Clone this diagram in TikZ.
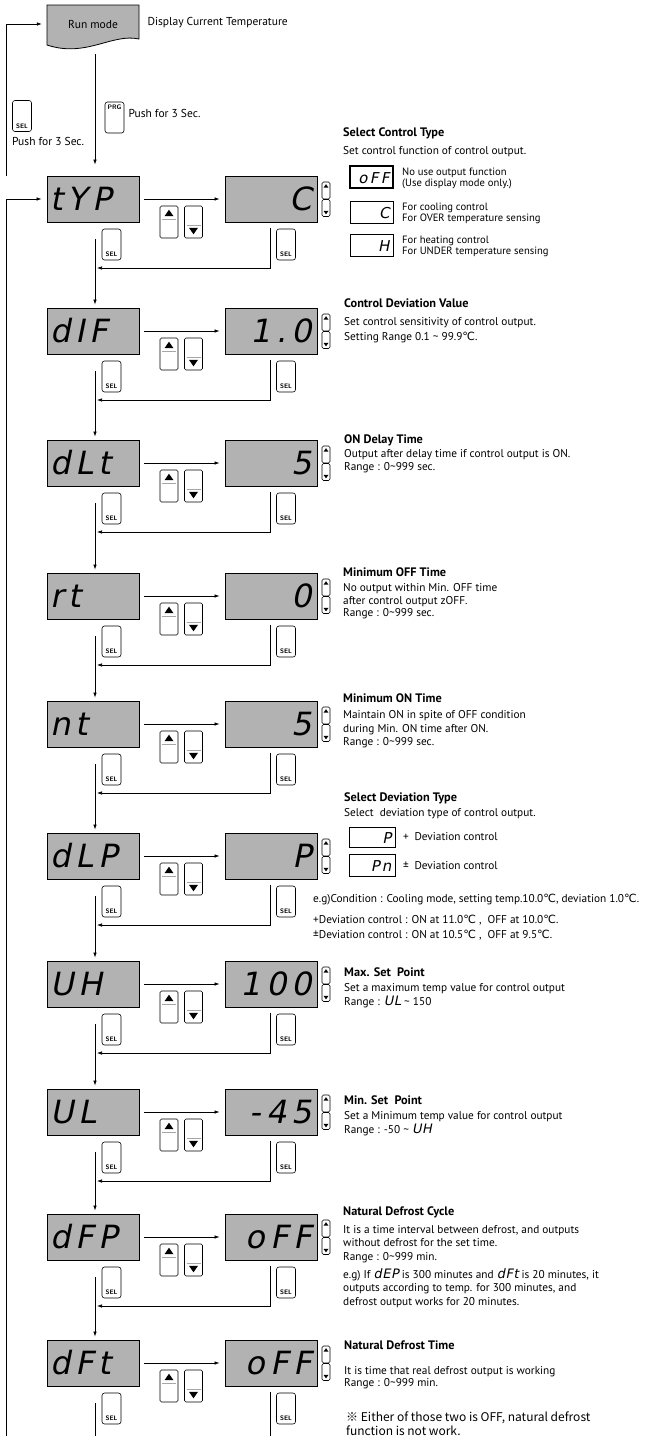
\documentclass[tikz,border=0pt]{standalone}
\usepackage{fontspec}
\setmainfont{PT Sans}
\newfontfamily\segfont[FakeSlant=0.2, LetterSpace=16]{DejaVu Sans}
\newfontfamily\seginline[FakeSlant=0.2, LetterSpace=4]{DejaVu Sans}
\newfontfamily\symfont{DejaVu Sans}
\newfontfamily\notefont{Noto Sans CJK JP}
\newcommand{\degc}{{\symfont ℃}}
\newcommand{\tild}{\textasciitilde}
\newcommand{\seg}[1]{{\seginline\fontsize{13}{13}\selectfont #1}}
\newcommand{\ttl}[1]{{\fontsize{12.3}{13}\selectfont\bfseries #1}}
\usetikzlibrary{arrows.meta, positioning, calc}

\begin{document}
\begin{tikzpicture}[x=1pt, y=-1pt, font=\fontsize{11.3}{13}\selectfont,
    disp/.style={rectangle, draw, line width=0.9pt, fill=black!30, minimum height=46pt, inner ysep=0pt, text height=22pt, text depth=0pt, font=\segfont\fontsize{32}{32}\selectfont},
    dispL/.style={disp, text width=86pt, inner xsep=3pt, align=left},
    dispR/.style={disp, text width=82pt, inner xsep=5pt, align=right},
    selkey/.style={draw, line width=0.6pt, rounded corners=2.5pt, minimum width=19pt, inner xsep=0pt, inner ysep=2.5pt, text height=25pt, text depth=1pt, font=\sffamily\bfseries\fontsize{6.5}{6.5}\selectfont},
    prgkey/.style={selkey, text height=5pt, text depth=21pt},
    arrkey/.style={draw, line width=0.6pt, rounded corners=1.5pt, minimum width=18pt, minimum height=32pt, inner sep=0pt},
    minikey/.style={draw, line width=0.6pt, rounded corners=1.5pt, minimum width=8pt, minimum height=17pt, inner sep=0pt},
    legbox/.style={draw, line width=0.6pt, minimum height=22pt, text width=36pt, inner xsep=3.5pt, inner ysep=0pt, align=right, text height=12pt, text depth=0pt, font=\segfont\fontsize{15}{15}\selectfont},
    descr/.style={anchor=north west, align=left, inner sep=0pt},
    small/.style={font=\fontsize{10.6}{10.5}\selectfont},
    arr/.style={-{Latex[length=5pt, width=3.5pt]}, line width=0.6pt}]

  \useasboundingbox (0,0) rectangle (651,1436);

  % Run mode
  \filldraw[fill=black!30, line width=0.8pt] (47,5) -- (139,5) -- (139,39) .. controls (112,33) and (86,58) .. (47,45) -- cycle;
  \node[minimum width=92pt, minimum height=30pt, font=\fontsize{11.5}{13}\selectfont] (run) at (93,24) {Run mode};
  \node[anchor=west, font=\fontsize{11.5}{13}\selectfont] (curtemp) at (144,23) {Display Current Temperature};
  \node[prgkey] (prg) at (114.5,117.5) {PRG};
  \node[anchor=west, font=\fontsize{11.5}{13}\selectfont] (prgtxt) at (125,113) {Push for 3 Sec.};
  \node[selkey] (selrun) at (22,116) {SEL};
  \node[anchor=west, inner xsep=0pt, font=\fontsize{11.5}{13}\selectfont] (seltxt) at (12,141) {Push for 3 Sec.};

  % Parameter rows
  \foreach \ty/\lft/\rgt/\rw in {176/tYP/C/0, 308/dIF/1.0/1, 440/dLt/5/2, 573/rt/0/3, 701/nt/5/4, 833/dLP/P/5, 961/UH/100/6, 1089/UL/-45/7, 1214/dFP/oFF/8, 1340/dFt/oFF/9} {
    \node[dispL] (L\rw) at (93,\ty+23) {\lft};
    \node[dispR] (R\rw) at (271,\ty+23) {\rgt};
    \node[arrkey] (up\rw) at (169,\ty+46) {};
    \node[arrkey] (dn\rw) at (193.5,\ty+46) {};
    \node[selkey] (sl\rw) at (111.5,\ty+68.5) {SEL};
    \node[selkey] (sr\rw) at (286,\ty+68.5) {SEL};
    \node[minikey] (mu\rw) at (326,\ty+14.5) {};
    \node[minikey] (md\rw) at (326,\ty+32) {};
    % key marks
    \fill[shift={(up\rw.north)}] (-4.5,10.5) -- (4.5,10.5) -- (0,4) -- cycle;
    \draw[black!35, shift={(up\rw.north)}] (-7,13.5) -- (7,13.5);
    \fill[shift={(dn\rw.south)}] (-4.5,-10.5) -- (4.5,-10.5) -- (0,-4) -- cycle;
    \draw[black!35, shift={(dn\rw.south)}] (-7,-13.5) -- (7,-13.5);
    \fill[shift={(mu\rw.north)}] (-2.5,6) -- (2.5,6) -- (0,2.5) -- cycle;
    \fill[shift={(md\rw.south)}] (-2.5,-6) -- (2.5,-6) -- (0,-2.5) -- cycle;
    \draw[arr, shorten <=5pt, shorten >=5pt] (L\rw) -- (R\rw);
    \coordinate (a\rw) at (95,\ty+63);
    \coordinate (b\rw) at (270,\ty+52);
    \coordinate (c\rw) at (270,\ty+92);
  }

  % Arrows
  \coordinate (rs) at (95,54);
  \draw[arr, shorten >=11pt] (rs) -- (rs |- L0.north);
  \coordinate (lp1) at (6,176);
  \coordinate (lp2) at (6,1436);
  \draw[arr, shorten >=5pt] (lp1) |- (run.west);
  \draw[arr, shorten >=5pt] (lp2) |- (L0.west);
  \foreach \rw [evaluate=\rw as \nx using int(\rw+1)] in {0,...,8} {
    \draw[arr, shorten >=3pt] (a\rw) -- (a\rw |- L\nx.north);
    \draw[arr, shorten >=2pt] (b\rw) -- (c\rw) -- (c\rw -| a\rw);
  }
  \coordinate (bot) at (0,1436);
  \draw[line width=0.6pt] (a9) -- (a9 |- bot);
  \draw[line width=0.6pt] (b9) -- (b9 |- bot);

  % Descriptions
  \node[descr] (d0) at (343,127.5) {\ttl{Select Control Type}\\[5pt]Set control function of control output.};
  \node[legbox, line width=1.1pt] (g0) at (371.5,177) {oFF};
  \node[legbox] (g1) at (371.5,212) {C};
  \node[legbox] (g2) at (371.5,245) {H};
  \node[descr, small] (gt0) at (402,168) {No use output function\\(Use display mode only.)};
  \node[descr, small] (gt1) at (402,203) {For cooling control\\For OVER temperature sensing};
  \node[descr, small] (gt2) at (402,236) {For heating control\\For UNDER temperature sensing};

  \node[descr] (d1) at (344,298.5) {\ttl{Control Deviation Value}\\[5pt]Set control sensitivity of control output.\\[2pt]Setting Range 0.1 \tild{} 99.9\degc.};
  \node[descr] (d2) at (344,434.5) {\ttl{ON Delay Time}\\[1pt]Output after delay time if control output is ON.\\Range : 0\tild999 sec.};
  \node[descr] (d3) at (343,567.5) {\ttl{Minimum OFF Time}\\[2pt]No output within Min. OFF time\\after control output zOFF.\\[-1pt]Range : 0\tild999 sec.};
  \node[descr] (d4) at (343,693.5) {\ttl{Minimum ON Time}\\[3pt]Maintain ON in spite of OFF condition\\[1pt]during Min. ON time after ON.\\Range : 0\tild999 sec.};

  \node[descr] (d5) at (344,792.5) {\ttl{Select Deviation Type}\\[2pt]Select\ \ deviation type of control output.};
  \node[legbox, minimum width=46pt, text width=39pt, minimum height=20pt] (p0) at (372,837) {P};
  \node[legbox, minimum width=46pt, text width=39pt, minimum height=22pt] (p1) at (372,865.5) {Pn};
  \node[anchor=base west, inner sep=0pt] (pt0) at (403,840) {+\enspace Deviation control};
  \node[anchor=base west, inner sep=0pt] (pt1) at (403,869) {±\enspace Deviation control};
  \node[descr] (eg5) at (313,893.5) {e.g)Condition : Cooling mode, setting temp.10.0\degc, deviation 1.0\degc.\\[8pt]+Deviation control : ON at 11.0\degc\ ,\ \ OFF at 10.0\degc.\\[2pt]±Deviation control : ON at 10.5\degc\ ,\ \ OFF at 9.5\degc.};

  \node[descr] (d6) at (344,967.5) {\ttl{Max. Set\ \ Point}\\[2pt]Set a maximum temp value for control output\\[1pt]Range : \seg{UL} \tild{} 150};
  \node[descr] (d7) at (344,1095.5) {\ttl{Min. Set\ \ Point}\\[2pt]Set a Minimum temp value for control output\\[1pt]Range : -50 \tild{} \seg{UH}};
  \node[descr] (d8) at (343,1206.5) {\ttl{Natural Defrost Cycle}\\[5pt]It is a time interval between defrost, and outputs\\without defrost for the set time.\\[1pt]Range : 0\tild999 min.\\[5pt]e.g) If \seg{dEP} is 300 minutes and \seg{dFt} is 20 minutes, it\\outputs according to temp. for 300 minutes, and\\[1pt]defrost output works for 20 minutes.};
  \node[descr] (d9) at (344,1340.5) {\ttl{Natural Defrost Time}\\[12pt]It is time that real defrost output is working\\[-1pt]Range : 0\tild999 min.};
  \node[descr, font=\notefont\fontsize{12}{14}\selectfont] (note) at (346,1412) {※ Either of those two is OFF, natural defrost\\function is not work.};
\end{tikzpicture}
\end{document}
